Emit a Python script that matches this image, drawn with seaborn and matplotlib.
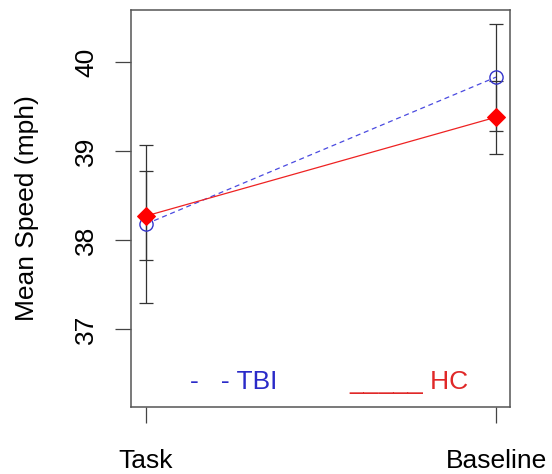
import numpy as np
import pandas as pd
import matplotlib
matplotlib.use("Agg")
import matplotlib.pyplot as plt
import seaborn as sns

# ---- data ----
conditions = ["Task", "Baseline"]
groups = ["TBI", "HC"]
tbi_mean = [38.18, 39.83]
tbi_err = [0.89, 0.60]
hc_mean = [38.27, 39.38]
hc_err = [0.50, 0.41]
y_ticks = [37, 38, 39, 40]

sns.set_style("white")
plt.rcParams["font.family"] = ["Liberation Sans", "DejaVu Sans"]
plt.rcParams["text.color"] = "black"

FS = 19

fig = plt.figure(figsize=(5.52, 4.74), dpi=100)
ax = fig.add_axes([131/552, 1 - 407/474, (510-131)/552, (407-10)/474])

x = np.arange(len(conditions))
df = pd.DataFrame({
    "x": np.concatenate([x, x]),
    "mean": tbi_mean + hc_mean,
    "group": ["TBI"] * 2 + ["HC"] * 2,
})

err_color = "#333333"
ax.errorbar(x, tbi_mean, yerr=tbi_err, fmt="none", ecolor=err_color,
            elinewidth=0.9, capsize=5, capthick=0.9, zorder=1)
ax.errorbar(x, hc_mean, yerr=hc_err, fmt="none", ecolor=err_color,
            elinewidth=0.9, capsize=5, capthick=0.9, zorder=1)

blue = "#3434cc"
red = "#ee2222"
sns.lineplot(data=df[df.group == "TBI"], x="x", y="mean", ax=ax, color="#4a4ae0",
             linewidth=0.9, linestyle=(0, (4, 3)), marker="o", markersize=9.5,
             markerfacecolor="none", markeredgecolor=blue, markeredgewidth=1.0,
             zorder=3, legend=False)
sns.lineplot(data=df[df.group == "HC"], x="x", y="mean", ax=ax, color=red,
             linewidth=0.9, marker="D", markersize=9.5, markerfacecolor="red",
             markeredgecolor="red", zorder=4, legend=False)

ax.set_xlim(-15/350, 1 + 14/350)
y0 = 37 - (407 - 329) / 89
y1 = 40 + (62 - 10) / 89
ax.set_ylim(y0, y1)

ax.set_xticks(x)
ax.set_xticklabels(conditions)
ax.set_yticks(y_ticks)
ax.set_yticklabels([str(v) for v in y_ticks], rotation=90, va="center")
ax.tick_params(axis="both", direction="out", length=11.5, width=0.9,
               color="#444444", labelsize=FS, labelcolor="black",
               left=True, bottom=True)
ax.tick_params(axis="y", pad=12)
ax.tick_params(axis="x", pad=19)

for s in ax.spines.values():
    s.set_visible(True)
    s.set_color("#555555")
    s.set_linewidth(1.1)

ax.set_xlabel("")
ax.set_ylabel("Mean Speed (mph)", fontsize=FS, color="black")
ax.yaxis.set_label_coords(-0.243, 0.5)

# legend drawn as text like the original
ax.text(0.155, 0.063, "-   - TBI", transform=ax.transAxes, color="#2a2ac8",
        fontsize=FS, va="center", ha="left")
ax.text(0.575, 0.063, "_____ HC", transform=ax.transAxes, color="#e02828",
        fontsize=FS, va="center", ha="left")

fig.savefig("out.png", dpi=100)
